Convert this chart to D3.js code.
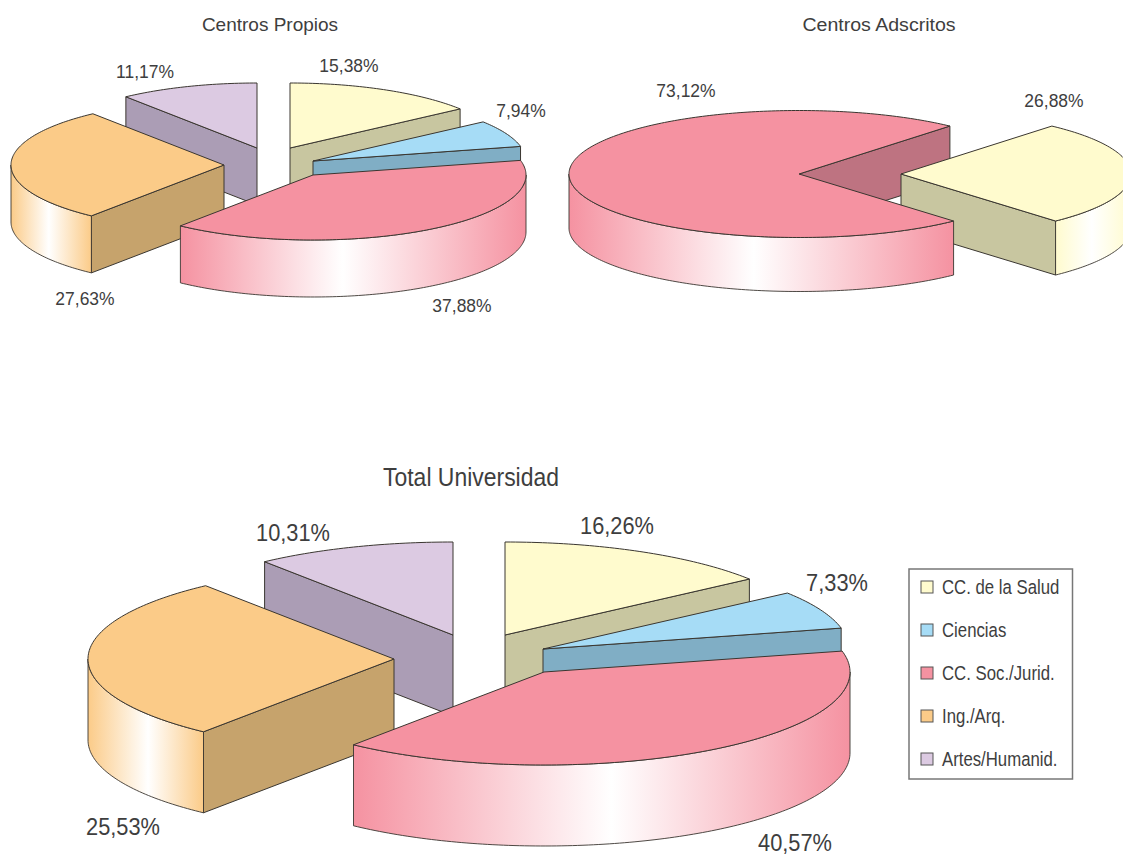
<!DOCTYPE html>
<html><head><meta charset="utf-8">
<script src="https://cdn.jsdelivr.net/npm/d3@7/dist/d3.min.js"></script>
<style>html,body{margin:0;padding:0;background:#fff;overflow:hidden}svg{display:block}
text{font-family:"Liberation Sans",sans-serif;fill:#3e3e3e}</style>
</head><body><div id="chart"></div>
<script>
// ---- data ----
const categories = ["CC. de la Salud","Ciencias","CC. Soc./Jurid.","Ing./Arq.","Artes/Humanid."];
const propiosValues = [15.38,7.94,37.88,27.63,11.17];
const adscritosCategories = ["CC. de la Salud","CC. Soc./Jurid."];
const adscritosValues = [26.88,73.12];
const totalValues = [16.26,7.33,40.57,25.53,10.31];
const pieTitles = ["Centros Propios","Centros Adscritos","Total Universidad"];

// ---- styles ----
const topColor  = {"CC. de la Salud":"#FFFBCE","Ciencias":"#A6DCF6","CC. Soc./Jurid.":"#F592A1","Ing./Arq.":"#FBCB88","Artes/Humanid.":"#DCCAE2"};
const wallColor = {"CC. de la Salud":"#C8C6A0","Ciencias":"#80AEC5","CC. Soc./Jurid.":"#BE7381","Ing./Arq.":"#C6A36C","Artes/Humanid.":"#AB9DB5"};
const edgeColor = "#3a3630";

// ---- layout: the drawing distorts angles, so a scale maps pie angle to drawn angle ----
const drawnTemplate = [0,53,77,218.5,322,360];
const layouts = [
 {title:{x:270,y:31,size:19,stretch:1}, labelSize:19, labelStretch:.92, rx:213, ry:65, depth:57, gradStop:.47,
  apex:[[290,148],[313,161],[313,175],[224,165],[257,148]],
  labels:[[349,72],[521,117],[462,312],[85,305],[145,78]],
  order:[[4,"wst"],[0,"wst"],[1,"wst"],[3,"wst"],[2,"wst"]], warp:true, start:0},
 {title:{x:879,y:31,size:19,stretch:1.03}, labelSize:19, labelStretch:.92, rx:230, ry:63.5, depth:54, gradStop:.48,
  apex:[[901,174],[799,174]],
  labels:[[1054,107],[686,97]],
  order:[[1,"w"],[0,"wst"],[1,"st"]], warp:false, start:41},
 {title:{x:471,y:486,size:25.5,stretch:.9}, labelSize:24.5, labelStretch:.89, rx:306, ry:93, depth:81, gradStop:.52,
  apex:[[505,635],[543,649],[544,672],[394,659],[453,635]],
  labels:[[617,534],[837,591],[795,851],[123,835],[293,541]],
  order:[[4,"wst"],[0,"wst"],[1,"wst"],[3,"wst"],[2,"wst"]], warp:true, start:0}
];
const pieData = [
 {cats:categories, vals:propiosValues},
 {cats:adscritosCategories, vals:adscritosValues},
 {cats:categories, vals:totalValues}
];

const svg = d3.select("#chart").append("svg").attr("width",1123).attr("height",856);
const defs = svg.append("defs");
const rad = d3.scaleLinear().domain([0,180]).range([0,Math.PI]);
const line = d3.line();
const fmt = v => v.toFixed(2).replace(".",",")+"%";
const label = (g,x,y,size,stretch,anchor,str)=>
  g.append("text").attr("transform",`translate(${x},${y}) scale(${stretch},1)`)
   .attr("text-anchor",anchor).attr("font-size",size).text(str);

pieData.forEach((pd,pi)=>{
  const L = layouts[pi];
  const arcs = d3.pie().sort(null).value(d=>d).startAngle(rad(L.start)).endAngle(rad(L.start+360))(pd.vals);
  const deg = rad.invert;
  const breaks = [arcs[0].startAngle].concat(arcs.map(a=>a.endAngle)).map(deg);
  const drawn = L.warp ? d3.scaleLinear().domain(breaks).range(drawnTemplate) : d3.scaleLinear().domain([0,720]).range([0,720]);
  const g = svg.append("g");

  const pt = (i,th,dz=0)=>{
    const [ax,ay]=L.apex[i];
    return [ax+L.rx*Math.sin(rad(th)), ay-L.ry*Math.cos(rad(th))+dz];
  };
  const arcPts = (i,a,b,dz=0)=>{
    const n=Math.max(2,Math.ceil(Math.abs(b-a)));
    return d3.range(n+1).map(k=>pt(i,a+(b-a)*k/n,dz));
  };
  const parts = {
    w(i,s,e,cat){
      // a straight cut face is visible when it turns toward the viewer
      const sm=((s%360)+360)%360, em=((e%360)+360)%360;
      let th=null;
      if(em>0&&em<180) th=e; else if(sm>=180&&sm<360) th=s;
      if(th===null) return;
      const [ax,ay]=L.apex[i], p=pt(i,th);
      g.append("path").attr("d",line([[ax,ay],p,[p[0],p[1]+L.depth],[ax,ay+L.depth]])+"Z")
       .attr("fill",wallColor[cat]).attr("stroke",edgeColor).attr("stroke-width",1).attr("stroke-linejoin","round");
    },
    s(i,s,e,cat){
      const a=Math.max(s,90), b=Math.min(e,270);
      if(b<=a) return;
      const id=`grad-${pi}-${i}`, lg=defs.append("linearGradient").attr("id",id);
      lg.append("stop").attr("offset",0).attr("stop-color",topColor[cat]);
      lg.append("stop").attr("offset",L.gradStop).attr("stop-color","#fff");
      lg.append("stop").attr("offset",1).attr("stop-color",topColor[cat]);
      const pts=arcPts(i,a,b).concat(arcPts(i,b,a,L.depth));
      g.append("path").attr("d",line(pts)+"Z").attr("fill",`url(#${id})`)
       .attr("stroke",edgeColor).attr("stroke-width",.9).attr("stroke-linejoin","round");
    },
    t(i,s,e,cat){
      const pts=[L.apex[i]].concat(arcPts(i,s,e));
      g.append("path").attr("d",line(pts)+"Z").attr("fill",topColor[cat])
       .attr("stroke",edgeColor).attr("stroke-width",1).attr("stroke-linejoin","round");
    }
  };
  L.order.forEach(([i,p])=>{
    const s=drawn(deg(arcs[i].startAngle)), e=drawn(deg(arcs[i].endAngle));
    p.split("").forEach(k=>parts[k](i,s,e,pd.cats[i]));
  });
  pd.vals.forEach((v,i)=>label(g,L.labels[i][0],L.labels[i][1],L.labelSize,L.labelStretch,"middle",fmt(v)));
  label(g,L.title.x,L.title.y,L.title.size,L.title.stretch,"middle",pieTitles[pi]);
});

// legend
const legend = svg.append("g");
legend.append("rect").attr("x",909).attr("y",569).attr("width",163.5).attr("height",210)
  .attr("fill","#fff").attr("stroke","#777").attr("stroke-width",1.5);
const ly = d3.scalePoint().domain(categories).range([587,759]);
categories.forEach(c=>{
  legend.append("rect").attr("x",921).attr("y",ly(c)-6).attr("width",12).attr("height",12)
    .attr("fill",topColor[c]).attr("stroke","#555").attr("stroke-width",1);
  label(legend,942,ly(c)+7,19.5,.86,"start",c);
});
</script></body></html>
